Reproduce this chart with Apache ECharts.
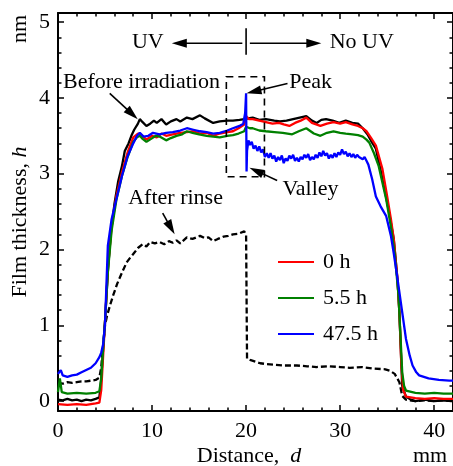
<!DOCTYPE html>
<html><head><meta charset="utf-8">
<script src="https://cdn.jsdelivr.net/npm/echarts@6/dist/echarts.min.js"></script>
<style>html,body{margin:0;padding:0;background:#fff}#c{width:453px;height:466px}</style>
</head><body><div id="c"></div>
<script>
// ---------- tick labels ----------
const distanceMajor = [0, 10, 20, 30, 40];
const distanceMinor = [0, 2, 4, 6, 8, 10, 12, 14, 16, 18, 20, 22, 24, 26, 28, 30, 32, 34, 36, 38, 40, 42];
const thicknessMajor = [0, 1, 2, 3, 4, 5];
const thicknessMinor = [0, 0.2, 0.4, 0.6, 0.8, 1, 1.2, 1.4, 1.6, 1.8, 2, 2.2, 2.4, 2.6, 2.8, 3, 3.2, 3.4, 3.6, 3.8, 4, 4.2, 4.4, 4.6, 4.8, 5];

// ---------- series data [distance mm, thickness nm] ----------
const beforeIrradiation = [
 [0,0.02],[0.5,0.01],[1,0.03],[1.5,0.01],[2,0.02],[2.5,0.0],[3,0.02],[3.5,0.01],[4,0.03],[4.4,0.05],
 [4.6,0.3],[4.8,0.7],[5.0,1.05],[5.3,1.7],[5.6,2.2],[6.0,2.6],[6.4,2.9],[6.8,3.1],[7.1,3.3],[7.5,3.4],
 [7.8,3.5],[8.1,3.58],[8.5,3.66],[8.7,3.72],[9.0,3.68],[9.4,3.63],[9.8,3.66],[10.2,3.7],[10.5,3.67],[11.0,3.72],
 [11.5,3.65],[12.0,3.69],[12.6,3.72],[13.0,3.69],[13.7,3.74],[14.3,3.72],[15.1,3.77],[15.6,3.73],[16.5,3.67],[17.2,3.69],
 [18.0,3.7],[18.6,3.7],[19.3,3.71],[19.8,3.72],[20.2,3.73],[20.7,3.74],[21.4,3.71],[22.1,3.72],[23.0,3.7],[23.6,3.69],
 [24.3,3.7],[25.0,3.72],[25.7,3.74],[26.4,3.76],[27.0,3.7],[27.5,3.67],[28.0,3.71],[28.5,3.72],[29.2,3.7],[29.9,3.67],
 [30.6,3.7],[31.3,3.67],[31.9,3.66],[32.4,3.6],[32.9,3.52],[33.4,3.41],[33.8,3.33],[34.3,3.05],[34.8,2.75],[35.2,2.49],
 [35.7,2.14],[36.1,1.6],[36.3,1.17],[36.5,0.52],[36.6,0.2],[37,0.06],[37.5,0.02],[38,0.0],[39,0.02],[40,0.0],[41,0.01],[42,0.0]
];
const afterRinse = [
 [0,0.24],[0.5,0.23],[1,0.25],[1.5,0.24],[2,0.25],[2.5,0.26],[3,0.26],[3.5,0.27],[4,0.28],[4.4,0.31],
 [4.6,0.45],[4.7,0.6],[5.0,1.0],[5.2,1.12],[5.5,1.25],[5.85,1.39],[6.3,1.55],[6.75,1.68],[7.3,1.83],[7.6,1.88],
 [8.0,1.94],[8.5,2.02],[9.0,2.07],[9.4,2.04],[9.8,2.1],[10.3,2.08],[10.8,2.1],[11.3,2.07],[11.8,2.11],[12.2,2.09],
 [12.6,2.12],[13.0,2.08],[13.7,2.16],[14.3,2.14],[15.1,2.18],[15.6,2.15],[16.0,2.16],[16.5,2.11],[17.0,2.14],[17.6,2.17],
 [18.1,2.18],[18.6,2.2],[19.2,2.21],[19.8,2.24],[20.0,2.19],[20.1,0.56],[20.5,0.54],[21.0,0.52],[21.5,0.5],[22.1,0.49],
 [23,0.48],[24,0.47],[25.4,0.47],[26.5,0.46],[27.5,0.45],[28.8,0.46],[30,0.45],[31,0.44],[32.3,0.45],[33.5,0.43],
 [34.8,0.42],[35.3,0.4],[35.8,0.36],[36.3,0.25],[36.6,0.07],[37,0.02],[38,0.0],[39,0.01],[40,0.0],[41,0.01],[42,0.0]
];
const uv0h = [
 [0,-0.04],[1,-0.05],[2,-0.04],[3,-0.05],[4,-0.03],[4.4,-0.02],[4.6,0.15],[4.8,0.6],[5.0,1.05],[5.3,1.75],
 [5.7,2.3],[6.2,2.7],[6.8,3.02],[7.4,3.28],[8.0,3.48],[8.5,3.53],[8.8,3.52],[9.4,3.45],[10.0,3.5],[10.5,3.48],
 [11.0,3.53],[11.5,3.5],[12.2,3.52],[13.0,3.54],[13.7,3.55],[14.4,3.56],[15.1,3.53],[15.8,3.54],[16.5,3.5],[17.2,3.53],
 [18.0,3.55],[18.6,3.56],[19.2,3.6],[19.8,3.65],[20.0,3.76],[20.3,3.72],[20.7,3.72],[21.4,3.7],[22.1,3.68],[22.8,3.66],
 [23.5,3.67],[24.0,3.65],[24.6,3.63],[25.2,3.67],[25.8,3.7],[26.4,3.74],[27.0,3.67],[27.9,3.63],[28.6,3.66],[29.3,3.68],
 [30.0,3.66],[30.6,3.68],[31.3,3.65],[31.9,3.63],[32.4,3.6],[32.8,3.56],[33.3,3.47],[33.8,3.37],[34.5,3.06],[35.0,2.7],
 [35.4,2.4],[35.7,2.14],[36.1,1.6],[36.3,1.17],[36.5,0.5],[36.7,0.15],[37,0.06],[38,0.04],[39,0.03],[40,0.04],[41,0.03],[42,0.03]
];
const uv5h = [
 [0,0.12],[0.2,0.3],[0.4,0.12],[1,0.1],[2,0.11],[3,0.1],[4,0.11],[4.4,0.13],[4.6,0.3],[4.8,0.7],
 [5.0,1.05],[5.3,1.7],[5.7,2.25],[6.2,2.65],[6.8,2.97],[7.4,3.22],[8.0,3.42],[8.4,3.48],[8.7,3.5],[9.0,3.46],
 [9.4,3.42],[9.9,3.46],[10.4,3.5],[10.8,3.49],[11.5,3.44],[12.0,3.47],[12.6,3.5],[13.2,3.52],[13.7,3.56],[14.3,3.54],
 [15.0,3.52],[15.8,3.5],[16.5,3.49],[17.2,3.48],[18.0,3.5],[18.6,3.51],[19.2,3.53],[19.8,3.56],[20.0,3.62],[20.4,3.6],
 [20.7,3.6],[21.4,3.57],[22.1,3.56],[23.0,3.55],[23.9,3.54],[24.9,3.52],[25.6,3.56],[26.4,3.6],[27.2,3.53],[27.9,3.5],
 [28.6,3.54],[29.3,3.56],[30.0,3.54],[30.6,3.53],[31.3,3.52],[31.9,3.51],[32.4,3.49],[32.8,3.45],[33.1,3.41],[33.6,3.27],
 [34.1,3.1],[34.9,2.66],[35.4,2.3],[35.8,1.95],[36.2,1.4],[36.4,0.9],[36.6,0.38],[36.8,0.2],[37,0.14],[38,0.11],
 [39,0.1],[40,0.11],[41,0.1],[42,0.1]
];
const uv47h = [
 [0,0.36],[0.3,0.41],[0.5,0.34],[1,0.32],[1.5,0.34],[2,0.35],[2.5,0.38],[3,0.41],[3.5,0.44],[4,0.5],
 [4.4,0.58],[4.6,0.64],[4.8,0.75],[5.0,1.02],[5.3,2.05],[5.7,2.4],[6.2,2.66],[6.8,2.97],[7.4,3.23],[8.0,3.4],
 [8.4,3.5],[8.7,3.54],[9.1,3.49],[9.6,3.5],[10.1,3.54],[10.8,3.52],[11.5,3.54],[12.2,3.55],[13.0,3.57],[13.7,3.6],
 [14.4,3.58],[15.1,3.56],[15.8,3.55],[16.5,3.53],[17.2,3.54],[18.0,3.57],[18.6,3.6],[19.3,3.63],[19.7,3.66],[19.9,3.8],
 [20.0,4.06],[20.05,3.03],[20.1,3.3],[20.25,3.44],[20.4,3.38],[20.6,3.42],[20.8,3.33],[21.0,3.37],[21.2,3.3],[21.4,3.36],
 [21.6,3.28],[21.8,3.32],[22.0,3.22],[22.2,3.27],[22.4,3.21],[22.6,3.27],[22.8,3.2],[23.0,3.24],[23.2,3.16],[23.4,3.22],
 [23.6,3.18],[23.8,3.24],[24.0,3.14],[24.2,3.2],[24.4,3.17],[24.6,3.24],[24.8,3.2],[25.0,3.25],[25.2,3.17],[25.4,3.21],
 [25.6,3.16],[25.8,3.22],[26.0,3.19],[26.2,3.25],[26.4,3.21],[26.6,3.26],[26.8,3.18],[27.0,3.22],[27.2,3.19],[27.4,3.25],
 [27.6,3.21],[27.8,3.28],[28.0,3.23],[28.2,3.3],[28.4,3.24],[28.6,3.27],[28.8,3.2],[29.0,3.25],[29.2,3.21],[29.4,3.27],
 [29.6,3.22],[29.8,3.28],[30.0,3.25],[30.2,3.32],[30.4,3.26],[30.6,3.29],[30.8,3.23],[31.0,3.27],[31.2,3.22],[31.4,3.26],
 [31.6,3.21],[31.8,3.25],[32.0,3.22],[32.2,3.24],[32.4,3.19],[32.6,3.22],[32.8,3.17],[33.0,3.12],
 [33.1,3.1],[33.4,2.93],[33.8,2.7],[34.3,2.57],[34.9,2.44],[35.4,2.18],[35.7,1.95],[36.0,1.7],[36.5,1.26],[37.0,0.82],
 [37.4,0.6],[37.7,0.47],[38.1,0.38],[38.4,0.34],[39.4,0.3],[40.5,0.28],[41.6,0.27],[42,0.27]
];

// ---------- annotation anchors (data coordinates) ----------
const uvText = [9.55, 4.73];
const noUvText = [32.3, 4.73];
const uvArrow = [[19.6, 4.72], [12.1, 4.72]];
const noUvArrow = [[20.4, 4.72], [28.0, 4.72]];
const uvDivider = [[20.0, 4.92], [20.0, 4.57]];
const beforeText = [0.53, 4.21];
const beforeArrow = [[5.5, 4.06], [8.48, 3.72]];
const peakText = [24.6, 4.21];
const peakArrow = [[24.4, 4.19], [20.05, 4.06]];
const valleyText = [23.86, 2.8];
const valleyArrow = [[23.3, 2.91], [20.36, 3.08]];
const rinseText = [12.5, 2.68];
const rinseArrow = [[11.13, 2.48], [12.4, 2.2]];
const boxCorners = [[17.9, 4.28], [21.95, 2.96]];

const FONT = '"Liberation Serif", "Times New Roman", serif';
const FS = 22;

function xAx(pos, ticks, len, label, line) {
  return {
    type: 'value', position: pos, min: 0, max: 42, gridIndex: 0,
    axisLine: { show: line, onZero: false, lineStyle: { color: '#000', width: 2 } },
    axisTick: { show: true, inside: true, length: len, customValues: ticks, lineStyle: { color: '#000', width: 1.5 } },
    axisLabel: { show: label, customValues: distanceMajor, margin: 9, color: '#000', fontFamily: FONT, fontSize: FS },
    splitLine: { show: false }
  };
}
function yAx(pos, ticks, len, label, line) {
  return {
    type: 'value', position: pos, min: -0.13, max: 5.12, gridIndex: 0,
    axisLine: { show: line, onZero: false, lineStyle: { color: '#000', width: 2 } },
    axisTick: { show: true, inside: true, length: len, customValues: ticks, lineStyle: { color: '#000', width: 1.5 } },
    axisLabel: { show: label, customValues: thicknessMajor, margin: 8, color: '#000', fontFamily: FONT, fontSize: FS },
    splitLine: { show: false }
  };
}

const chart = echarts.init(document.getElementById('c'), null, { renderer: 'canvas' });
function lineSeries(name, data, color, dashed, z) {
  return {
    name, type: 'line', data, xAxisIndex: 0, yAxisIndex: 0, symbol: 'none', showSymbol: false,
    z, animation: false,
    lineStyle: { color, width: 2.3, type: dashed ? [6, 3] : 'solid' },
    itemStyle: { color }
  };
}
chart.setOption({
  animation: false,
  backgroundColor: '#fff',
  grid: { left: 58, top: 13, width: 396, height: 398 },
  xAxis: [
    xAx('bottom', distanceMajor, 6, true, true),
    xAx('bottom', distanceMinor, 3.5, false, false),
    xAx('top', distanceMajor, 6, false, true),
    xAx('top', distanceMinor, 3.5, false, false)
  ],
  yAxis: [
    yAx('left', thicknessMajor, 6, true, true),
    yAx('left', thicknessMinor, 3.5, false, false),
    yAx('right', thicknessMajor, 6, false, true),
    yAx('right', thicknessMinor, 3.5, false, false)
  ],
  legend: {
    data: ['0 h', '5.5 h', '47.5 h'], orient: 'vertical', left: 273, top: 246,
    itemWidth: 36, itemHeight: 14, itemGap: 14, icon: 'path://M0,6 L36,6 L36,8 L0,8 Z',
    textStyle: { fontFamily: FONT, fontSize: FS, color: '#000', lineHeight: 22, padding: [0, 0, 0, 4] },
    selectedMode: false
  },
  series: [
    lineSeries('Before irradiation', beforeIrradiation, '#000000', false, 2),
    lineSeries('After rinse', afterRinse, '#000000', true, 2),
    lineSeries('0 h', uv0h, '#ff0000', false, 3),
    lineSeries('5.5 h', uv5h, '#008000', false, 4),
    lineSeries('47.5 h', uv47h, '#0000ff', false, 5)
  ]
});

const P = (p) => chart.convertToPixel({ gridIndex: 0 }, p);
function text(str, p, align, rich) {
  const q = P(p);
  return { type: 'text', z: 50, style: { text: str, x: q[0], y: q[1], align: align, verticalAlign: 'middle',
    fontFamily: FONT, fontSize: FS, fill: '#000', rich: rich } };
}
function arrow(seg) {
  const a = P(seg[0]), b = P(seg[1]);
  const dx = b[0] - a[0], dy = b[1] - a[1], L = Math.hypot(dx, dy);
  const ux = dx / L, uy = dy / L, hl = 15, hw = 4.5;
  const bx = b[0] - ux * hl, by = b[1] - uy * hl;
  return [
    { type: 'line', z: 50, shape: { x1: a[0], y1: a[1], x2: bx + ux * 2, y2: by + uy * 2 }, style: { stroke: '#000', lineWidth: 1.6 } },
    { type: 'polygon', z: 50, shape: { points: [[b[0], b[1]], [bx - uy * hw, by + ux * hw], [bx + uy * hw, by - ux * hw]] }, style: { fill: '#000' } }
  ];
}
const d1 = P(uvDivider[0]), d2 = P(uvDivider[1]);
const b1 = P(boxCorners[0]), b2 = P(boxCorners[1]);
const graphics = [
  text('UV', uvText, 'center'),
  text('No UV', noUvText, 'center'),
  ...arrow(uvArrow), ...arrow(noUvArrow),
  { type: 'line', z: 50, shape: { x1: d1[0], y1: d1[1], x2: d2[0], y2: d2[1] }, style: { stroke: '#000', lineWidth: 1.6 } },
  text('Before irradiation', beforeText, 'left'),
  ...arrow(beforeArrow),
  text('Peak', peakText, 'left'),
  ...arrow(peakArrow),
  text('Valley', valleyText, 'left'),
  ...arrow(valleyArrow),
  text('After rinse', rinseText, 'center'),
  ...arrow(rinseArrow),
  { type: 'rect', z: 49, shape: { x: b1[0], y: b1[1], width: b2[0] - b1[0], height: b2[1] - b1[1] },
    style: { fill: 'none', stroke: '#000', lineWidth: 1.6, lineDash: [7, 5] } },
  { type: 'text', z: 50, x: 20, y: 222, rotation: Math.PI / 2,
    style: { text: '{n|Film thickness, }{i|h}', align: 'center', verticalAlign: 'middle', fill: '#000',
      rich: { n: { fontFamily: FONT, fontSize: FS, fill: '#000' }, i: { fontFamily: FONT, fontSize: FS, fontStyle: 'italic', fill: '#000' } } } },
  { type: 'text', z: 50, x: 20, y: 29, rotation: Math.PI / 2,
    style: { text: 'nm', align: 'center', verticalAlign: 'middle', fill: '#000', fontFamily: FONT, fontSize: FS } },
  { type: 'text', z: 50, x: 249, y: 456,
    style: { text: '{n|Distance,  }{i|d}', align: 'center', verticalAlign: 'middle', fill: '#000',
      rich: { n: { fontFamily: FONT, fontSize: FS, fill: '#000' }, i: { fontFamily: FONT, fontSize: FS, fontStyle: 'italic', fill: '#000' } } } },
  { type: 'text', z: 50, x: 430, y: 456,
    style: { text: 'mm', align: 'center', verticalAlign: 'middle', fill: '#000', fontFamily: FONT, fontSize: FS } }
];
chart.setOption({ graphic: graphics });
</script>
</body></html>
